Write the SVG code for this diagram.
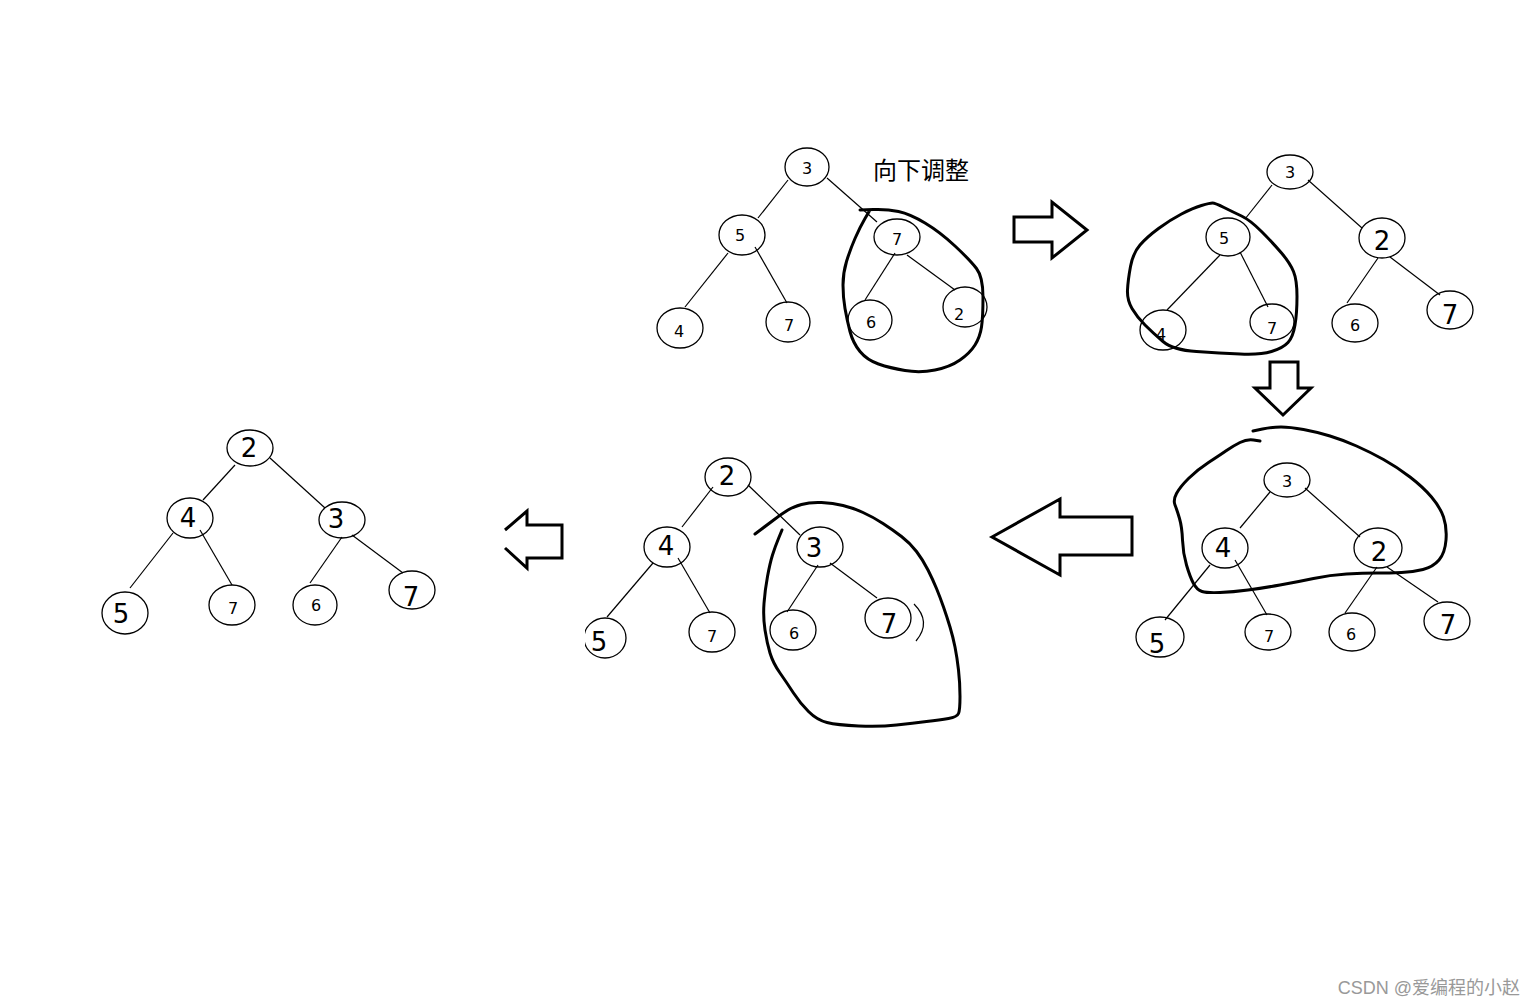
<svg xmlns="http://www.w3.org/2000/svg" width="1536" height="1006" viewBox="0 0 1536 1006">
<defs>
<style>
.n ellipse{fill:none;stroke:#000;stroke-width:1.3}
.n text{font-family:"DejaVu Sans","Liberation Sans",sans-serif;fill:#000;text-anchor:middle;dominant-baseline:central}
.s text{font-size:16px}
.b text{font-size:26px}
#edges line{stroke:#000;stroke-width:1.2}
.blob{fill:none;stroke:#000;stroke-width:3;stroke-linejoin:round;stroke-linecap:round}
.arrow{fill:#fff;stroke:#000;stroke-width:3;stroke-linejoin:miter}
</style>
<clipPath id="c5"><rect x="585" y="600" width="60" height="60"/></clipPath>
</defs>
<rect width="1536" height="1006" fill="#fff"/>

<g id="edges">
<line x1="788" y1="180" x2="758" y2="218"/>
<line x1="827" y1="178" x2="877" y2="222"/>
<line x1="728" y1="253" x2="685" y2="307"/>
<line x1="755" y1="247" x2="787" y2="303"/>
<line x1="895" y1="253" x2="865" y2="300"/>
<line x1="907" y1="255" x2="955" y2="290"/>
<line x1="1272" y1="185" x2="1245" y2="219"/>
<line x1="1308" y1="180" x2="1362" y2="228"/>
<line x1="1220" y1="255" x2="1167" y2="310"/>
<line x1="1240" y1="252" x2="1268" y2="307"/>
<line x1="1378" y1="258" x2="1347" y2="303"/>
<line x1="1390" y1="257" x2="1440" y2="295"/>
<line x1="1270" y1="492" x2="1240" y2="528"/>
<line x1="1305" y1="488" x2="1360" y2="537"/>
<line x1="1210" y1="565" x2="1165" y2="620"/>
<line x1="1235" y1="560" x2="1267" y2="615"/>
<line x1="1377" y1="567" x2="1345" y2="613"/>
<line x1="1387" y1="567" x2="1438" y2="602"/>
<line x1="713" y1="487" x2="682" y2="527"/>
<line x1="748" y1="485" x2="800" y2="535"/>
<line x1="653" y1="563" x2="607" y2="617"/>
<line x1="678" y1="558" x2="710" y2="613"/>
<line x1="818" y1="565" x2="787" y2="612"/>
<line x1="830" y1="563" x2="877" y2="598"/>
<line x1="235" y1="465" x2="203" y2="500"/>
<line x1="270" y1="458" x2="325" y2="508"/>
<line x1="173" y1="533" x2="130" y2="588"/>
<line x1="200" y1="530" x2="232" y2="585"/>
<line x1="342" y1="537" x2="310" y2="583"/>
<line x1="352" y1="535" x2="403" y2="573"/>
</g>

<g id="t1-3" class="n s"><ellipse cx="807" cy="167" rx="22" ry="19"/><text x="807" y="168">3</text></g>
<g id="t1-5" class="n s"><ellipse cx="742" cy="235" rx="23" ry="20"/><text x="740" y="235">5</text></g>
<g id="t1-7a" class="n s"><ellipse cx="897" cy="237" rx="23" ry="18"/><text x="897" y="239">7</text></g>
<g id="t1-4" class="n s"><ellipse cx="680" cy="328" rx="23" ry="20"/><text x="679" y="331">4</text></g>
<g id="t1-7b" class="n s"><ellipse cx="788" cy="322" rx="22" ry="20"/><text x="789" y="325">7</text></g>
<g id="t1-6" class="n s"><ellipse cx="870" cy="320" rx="22" ry="20"/><text x="871" y="322">6</text></g>
<g id="t1-2" class="n s"><ellipse cx="965" cy="307" rx="22" ry="20"/><text x="959" y="314">2</text></g>
<text x="873" y="179" font-family="'Noto Sans CJK SC',sans-serif" font-size="24" fill="#000">向下调整</text>

<g id="t2-3" class="n s"><ellipse cx="1290" cy="172" rx="23" ry="17"/><text x="1290" y="172">3</text></g>
<g id="t2-5" class="n s"><ellipse cx="1228" cy="237" rx="22" ry="19"/><text x="1224" y="238">5</text></g>
<g id="t2-2" class="n b"><ellipse cx="1382" cy="238" rx="23" ry="20"/><text x="1382" y="241">2</text></g>
<g id="t2-4" class="n s"><ellipse cx="1163" cy="330" rx="23" ry="20"/><text x="1161" y="334">4</text></g>
<g id="t2-7a" class="n s"><ellipse cx="1272" cy="322" rx="22" ry="18"/><text x="1272" y="328">7</text></g>
<g id="t2-6" class="n s"><ellipse cx="1355" cy="323" rx="23" ry="19"/><text x="1355" y="325">6</text></g>
<g id="t2-7b" class="n b"><ellipse cx="1450" cy="310" rx="23" ry="19"/><text x="1450" y="315">7</text></g>

<g id="t3-3" class="n s"><ellipse cx="1287" cy="480" rx="23" ry="17"/><text x="1287" y="481">3</text></g>
<g id="t3-4" class="n b"><ellipse cx="1225" cy="548" rx="23" ry="20"/><text x="1223" y="548">4</text></g>
<g id="t3-2" class="n b"><ellipse cx="1378" cy="548" rx="24" ry="20"/><text x="1379" y="552">2</text></g>
<g id="t3-5" class="n b"><ellipse cx="1160" cy="637" rx="24" ry="20"/><text x="1157" y="644">5</text></g>
<g id="t3-7a" class="n s"><ellipse cx="1268" cy="632" rx="23" ry="18"/><text x="1269" y="636">7</text></g>
<g id="t3-6" class="n s"><ellipse cx="1352" cy="632" rx="23" ry="19"/><text x="1351" y="634">6</text></g>
<g id="t3-7b" class="n b"><ellipse cx="1447" cy="621" rx="23" ry="19"/><text x="1448" y="625">7</text></g>

<g id="t4-2" class="n b"><ellipse cx="728" cy="477" rx="23" ry="19"/><text x="727" y="476">2</text></g>
<g id="t4-4" class="n b"><ellipse cx="667" cy="547" rx="23" ry="20"/><text x="666" y="546">4</text></g>
<g id="t4-3" class="n b"><ellipse cx="820" cy="547" rx="23" ry="20"/><text x="814" y="548">3</text></g>
<g id="t4-5" class="n b"><ellipse cx="605" cy="638" rx="21" ry="20" clip-path="url(#c5)"/><text x="599" y="642">5</text></g>
<g id="t4-7a" class="n s"><ellipse cx="712" cy="632" rx="23" ry="20"/><text x="712" y="636">7</text></g>
<g id="t4-6" class="n s"><ellipse cx="793" cy="630" rx="23" ry="20"/><text x="794" y="633">6</text></g>
<g id="t4-7b" class="n b"><ellipse cx="888" cy="618" rx="23" ry="20"/><path d="M914,604 Q932,622 916,641" fill="none" stroke="#000" stroke-width="1.2"/><text x="889" y="624">7</text></g>

<g id="t5-2" class="n b"><ellipse cx="250" cy="448" rx="23" ry="18"/><text x="249" y="448">2</text></g>
<g id="t5-4" class="n b"><ellipse cx="190" cy="518" rx="23" ry="20"/><text x="188" y="518">4</text></g>
<g id="t5-3" class="n b"><ellipse cx="342" cy="520" rx="23" ry="18"/><text x="336" y="519">3</text></g>
<g id="t5-5" class="n b"><ellipse cx="125" cy="613" rx="23" ry="21"/><text x="121" y="614">5</text></g>
<g id="t5-7a" class="n s"><ellipse cx="232" cy="605" rx="23" ry="20"/><text x="233" y="608">7</text></g>
<g id="t5-6" class="n s"><ellipse cx="315" cy="605" rx="22" ry="20"/><text x="316" y="605">6</text></g>
<g id="t5-7b" class="n b"><ellipse cx="412" cy="590" rx="23" ry="19"/><text x="411" y="597">7</text></g>

<g id="loops">
<path class="blob" d="M860,210 L873.5,209.5 Q887,209 898.5,211.5 Q910,214 925,223 Q940,232 955,246 Q970,260 976.5,268.5 Q983,277 983,297 Q983,317 981.5,327 Q980,337 975,345 Q970,353 960,360 Q950,367 935,370 Q920,373 905,370.5 Q890,368 878.5,364 Q867,360 860,351.5 Q853,343 850,331.5 Q847,320 845,308.5 Q843,297 843,285 Q843,273 846.5,261.5 Q850,250 855,238.5 Q860,227 865,218.5 L870,210"/>
<path class="blob" d="M1212.5,203 Q1215,203 1224,207.5 Q1233,212 1241.5,216 Q1250,220 1261.5,231.5 Q1273,243 1281.5,253 Q1290,263 1293.5,271.5 Q1297,280 1297,296.5 Q1297,313 1295,325 Q1293,337 1288,342.5 Q1283,348 1271.5,351.5 Q1260,355 1240,354 Q1220,353 1196.5,351.5 Q1173,350 1163,341.5 Q1153,333 1145,325 Q1137,317 1132,308.5 Q1127,300 1127.5,290 Q1128,280 1130.5,266.5 Q1133,253 1140,245 Q1147,237 1158.5,228.5 Q1170,220 1181.5,214 Q1193,208 1201.5,205.5 Q1210,203 1212.5,203 Z"/>
<path class="blob" d="M1253,431 L1262.5,429 Q1272,427 1281,427 Q1290,427 1303.5,429.5 Q1317,432 1330,436 Q1343,440 1356.5,446 Q1370,452 1383.5,459.5 Q1397,467 1410,477 Q1423,487 1431.5,497 Q1440,507 1443.5,517 Q1447,527 1446,540 Q1445,553 1439,560 Q1433,567 1423,569.5 Q1413,572 1401.5,572.5 Q1390,573 1376.5,573 Q1363,573 1346.5,574 Q1330,575 1313.5,578.5 Q1297,582 1280,585 Q1263,588 1248,590 Q1233,592 1220,592.5 Q1207,593 1202,591.5 Q1197,590 1193.5,583.5 Q1190,577 1186.5,565 Q1183,553 1182.5,540 Q1182,527 1179.5,518.5 Q1177,510 1175,505 Q1173,500 1176.5,493.5 Q1180,487 1188.5,478.5 Q1197,470 1208.5,462.5 Q1220,455 1226.5,450.5 Q1233,446 1240,442.5 Q1247,439 1253.5,440 L1260,441"/>
<path class="blob" d="M755,534 L761,529.5 Q767,525 775,519 Q783,513 788,510 Q793,507 801.5,504.5 Q810,502 821.5,502.5 Q833,503 843,505.5 Q853,508 863,512.5 Q873,517 883,523.5 Q893,530 901.5,536.5 Q910,543 916.5,551.5 Q923,560 928,570 Q933,580 936.5,588.5 Q940,597 943.5,607 Q947,617 950,627 Q953,637 955,647 Q957,657 958.5,670 Q960,683 960,696.5 Q960,710 958.5,713.5 Q957,717 948.5,718.5 Q940,720 926.5,721.5 Q913,723 896.5,725 Q880,727 858.5,726 Q837,725 827,722.5 Q817,720 808.5,711.5 Q800,703 793.5,693 Q787,683 780,673 Q773,663 770,653 Q767,643 765,630 Q763,617 764,603.5 Q765,590 767.5,576.5 Q770,563 772.5,555 Q775,547 778.5,538.5 L782,530"/>
</g>

<g id="arrows">
<polygon class="arrow" points="1014,217 1052,217 1052,202 1087,230 1052,258 1052,242 1014,242"/>
<polygon class="arrow" points="1270,362 1298,362 1298,388 1311,388 1283,415 1255,388 1270,388"/>
<polygon class="arrow" points="992,537 1060,499 1060,517 1132,517 1132,555 1060,555 1060,575"/>
<polyline class="arrow" fill="none" points="505,530 527,511 527,525 562,525 562,558 527,558 527,568 505,548"/>
</g>

<text x="1520" y="994" text-anchor="end" font-family="'Liberation Sans','Noto Sans CJK SC',sans-serif" font-size="18" fill="#999">CSDN @爱编程的小赵</text>
</svg>
